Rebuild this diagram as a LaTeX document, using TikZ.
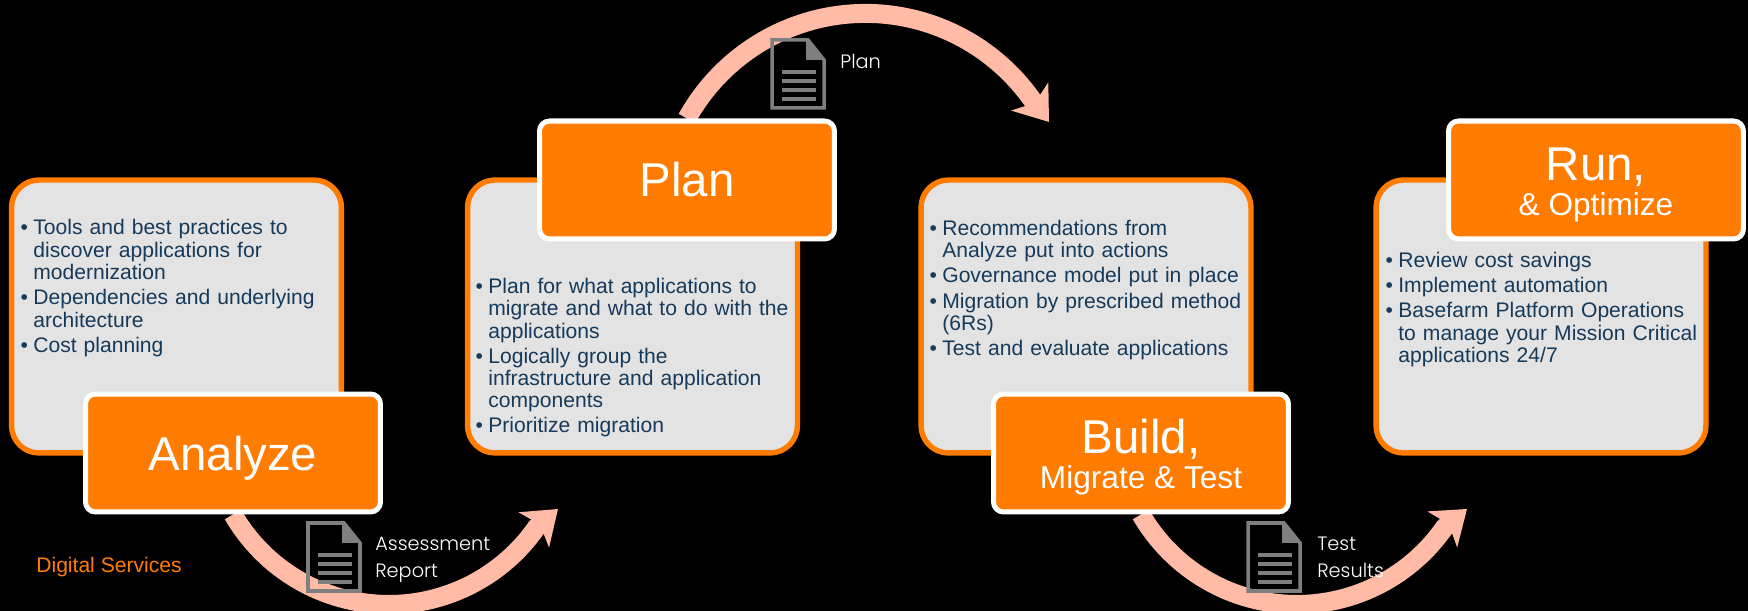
\documentclass[tikz,border=0pt]{standalone}
\usepackage{fontspec}
\setmainfont{Liberation Sans}
\newfontfamily\thinfont[UprightFont=* Light]{Poppins}
\usetikzlibrary{arrows.meta,backgrounds}
\definecolor{boxorange}{HTML}{FF7C00}
\definecolor{panelgray}{HTML}{E3E3E3}
\definecolor{flowpink}{HTML}{FFBBA6}
\definecolor{bodynavy}{HTML}{163A5A}
\definecolor{icongray}{HTML}{7F7F7F}
\newcommand{\bul}{\par\noindent\llap{\fontsize{12}{12}\selectfont\textbullet\hspace{3.1pt}}}
\newcommand{\stagetext}[2]{\rule{0pt}{24.6pt}#1\\[-7pt]{\fontsize{18}{18}\selectfont #2}}
\tikzset{
	panel/.style={draw=boxorange, fill=panelgray, line width=3.1pt, rounded corners=0.55cm, minimum width=6.6cm, minimum height=5.46cm},
	stagebox/.style={draw=white, fill=boxorange, text=white, line width=2.85pt, rounded corners=0.2cm, minimum width=5.9cm, minimum height=2.36cm, align=center, font=\fontsize{27}{27}\selectfont},
	bodytext/.style={anchor=north west, inner sep=0pt, text=bodynavy, text width=6.6cm, font=\fontsize{12}{12.7}\selectfont, execute at begin node={\raggedright\setlength{\parskip}{1.6pt}\setlength{\leftskip}{5.7pt}}},
	flow/.style={draw=flowpink, line width=10.8pt, -{Stealth[length=18pt, width=26pt, inset=4.5pt]}},
	doclabel/.style={anchor=north west, inner sep=0pt, text=white, align=left, font=\thinfont\fontsize{11}{15}\selectfont},
	docicon/.pic={
		\draw[icongray, line width=2pt] (36,0) -- (0,0) -- (0,-68) -- (52,-68) -- (52,-20) -- cycle;
		\fill[icongray] (34,0) -- (54,-20) -- (34,-20) -- cycle;
		\foreach \ypos in {-30,-39,-48,-57}
			\fill[icongray] (10,\ypos) rectangle (44,\ypos-4);
	}
}
\begin{document}
\begin{tikzpicture}[x=0.02cm, y=0.02cm]
	\useasboundingbox (0,0) rectangle (1748,611);
	
	\node[panel] (analyzepanel) at (176.5,294.5) {};
	\node[panel] (planpanel) at (632.5,294.5) {};
	\node[panel] (buildpanel) at (1086,294.5) {};
	\node[panel] (runpanel) at (1541,294.5) {};
	
	\node[stagebox, text depth=0pt] (analyze) at (233,158) {Analyze};
	\node[stagebox] (plan) at (687,431) {Plan};
	\node[stagebox] (build) at (1141,158) {\stagetext{Build,}{Migrate \& Test}};
	\node[stagebox] (run) at (1596,431) {\stagetext{Run,}{\& Optimize}};
	
	\node[bodytext] (analyzetext) at (23,401.5) {\bul Tools and best practices to\\discover applications for\\modernization
		\bul Dependencies and underlying\\architecture
		\bul Cost planning};
	\node[bodytext] (plantext) at (478,343) {\bul Plan for what applications to\\migrate and what to do with the\\applications
		\bul Logically group the\\infrastructure and application\\components
		\bul Prioritize migration};
	\node[bodytext] (buildtext) at (932,401) {\bul Recommendations from\\Analyze put into actions
		\bul Governance model put in place
		\bul Migration by prescribed method\\(6Rs)
		\bul Test and evaluate applications};
	\node[bodytext] (runtext) at (1388,369) {\bul Review cost savings
		\bul Implement automation
		\bul Basefarm Platform Operations\\to manage your Mission Critical\\applications 24/7};
	
	\coordinate (analyzetip) at (558,102);
	\coordinate (plantip) at (1049,489);
	\coordinate (buildtip) at (1467,102);
	
	\begin{scope}[on background layer]
		\fill[black] (0,0) rectangle (1748,611);
		\draw[flow] (analyze.south) arc (210:325:180) -- (analyzetip);
		\draw[flow] (plan.north) arc (151:36:204) -- (plantip);
		\draw[flow] (build.south) arc (210:325:180) -- (buildtip);
	\end{scope}
	
	\pic at (308,88) {docicon};
	\pic at (772,571) {docicon};
	\pic at (1248,88) {docicon};
	
	\node[doclabel] (assesslabel) at (375,74) {Assessment\\Report};
	\node[doclabel] (planlabel) at (840,557) {Plan};
	\node[doclabel] (testlabel) at (1317,74) {Test\\Results};
	
	\node[anchor=base west, inner sep=0pt, text=boxorange, font=\fontsize{12}{12}\selectfont] (digital) at (36,38) {Digital Services};
\end{tikzpicture}
\end{document}
